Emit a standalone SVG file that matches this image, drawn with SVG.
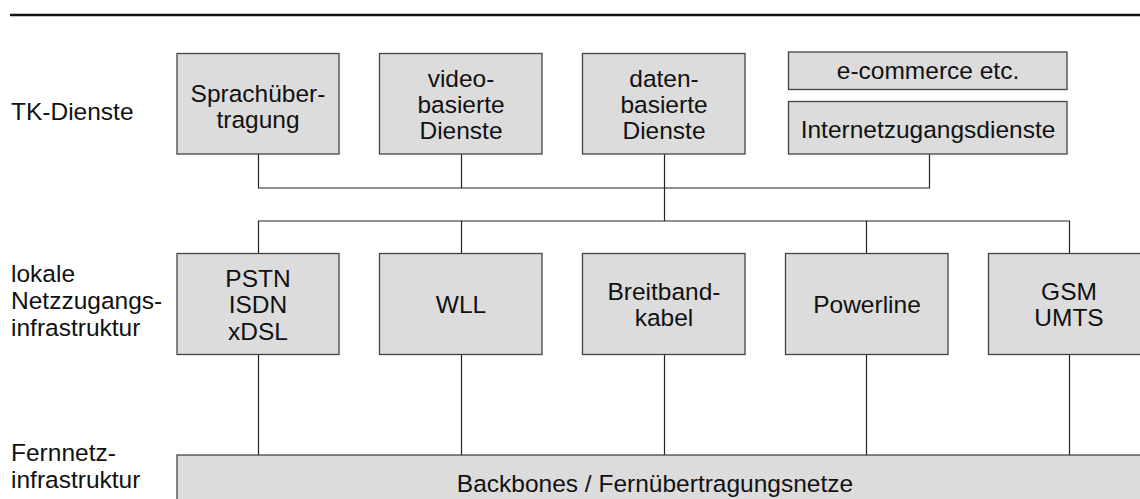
<svg xmlns="http://www.w3.org/2000/svg" width="1140" height="499" viewBox="0 0 1140 499">
  <style>
    .box { fill: #dcdcdc; stroke: #444; stroke-width: 1.3; }
    .t { font-family: "Liberation Sans", Arial, sans-serif; font-size: 24.5px; fill: #111; }
    .c { text-anchor: middle; }
    .wire { fill: none; stroke: #222; stroke-width: 1.2; }
  </style>
  <rect width="1140" height="499" fill="#fff"/>
  <!-- header rule -->
  <line x1="10" y1="15" x2="1140" y2="15" stroke="#111" stroke-width="2.5"/>

  <!-- layer labels -->
  <g id="labels">
    <text class="t" x="11" y="119.5">TK-Dienste</text>
    <text class="t" x="11" y="281.5">lokale</text>
    <text class="t" x="11" y="308.5">Netzzugangs-</text>
    <text class="t" x="11" y="335.5">infrastruktur</text>
    <text class="t" x="11" y="460.5">Fernnetz-</text>
    <text class="t" x="11" y="487.5">infrastruktur</text>
  </g>

  <!-- connectors -->
  <g id="connectors" class="wire">
    <path d="M258.5 154 V188 H929.5 V154"/>
    <path d="M461.5 154 V188"/>
    <path d="M664.5 154 V221"/>
    <path d="M258.5 253 V221 H1069.5 V253"/>
    <path d="M461.5 221 V253"/>
    <path d="M866.5 221 V253"/>
    <path d="M258.5 355 V455"/>
    <path d="M461.5 355 V455"/>
    <path d="M664.5 355 V455"/>
    <path d="M866.5 355 V455"/>
    <path d="M1069.5 355 V455"/>
  </g>

  <!-- service layer -->
  <g id="sprachuebertragung">
    <rect class="box" x="177" y="53.5" width="162" height="100.5"/>
    <text class="t c" x="258" y="102">Sprachüber-</text>
    <text class="t c" x="258" y="128">tragung</text>
  </g>
  <g id="videodienste">
    <rect class="box" x="379.5" y="53.5" width="162.5" height="100.5"/>
    <text class="t c" x="461" y="87">video-</text>
    <text class="t c" x="461" y="113">basierte</text>
    <text class="t c" x="461" y="139">Dienste</text>
  </g>
  <g id="datendienste">
    <rect class="box" x="582.5" y="53.5" width="162.5" height="100.5"/>
    <text class="t c" x="664" y="87">daten-</text>
    <text class="t c" x="664" y="113">basierte</text>
    <text class="t c" x="664" y="139">Dienste</text>
  </g>
  <g id="ecommerce">
    <rect class="box" x="788.5" y="52" width="278.5" height="37.5"/>
    <text class="t c" x="928" y="78.5">e-commerce etc.</text>
  </g>
  <g id="internetzugang">
    <rect class="box" x="788.5" y="101.5" width="278.5" height="52.5"/>
    <text class="t c" x="928" y="137.5">Internetzugangsdienste</text>
  </g>

  <!-- access layer -->
  <g id="pstn">
    <rect class="box" x="177" y="253.5" width="162" height="101"/>
    <text class="t c" x="258" y="286.5">PSTN</text>
    <text class="t c" x="258" y="313">ISDN</text>
    <text class="t c" x="258" y="340">xDSL</text>
  </g>
  <g id="wll">
    <rect class="box" x="379.5" y="253.5" width="162.5" height="101"/>
    <text class="t c" x="461" y="313">WLL</text>
  </g>
  <g id="breitbandkabel">
    <rect class="box" x="582.5" y="253.5" width="162.5" height="101"/>
    <text class="t c" x="664" y="300">Breitband-</text>
    <text class="t c" x="664" y="326">kabel</text>
  </g>
  <g id="powerline">
    <rect class="box" x="785.5" y="253.5" width="162.5" height="101"/>
    <text class="t c" x="867" y="313">Powerline</text>
  </g>
  <g id="gsm">
    <rect class="box" x="988.5" y="253.5" width="162.5" height="101"/>
    <text class="t c" x="1069" y="300">GSM</text>
    <text class="t c" x="1069" y="326">UMTS</text>
  </g>

  <!-- core layer -->
  <g id="backbones">
    <rect class="box" x="177" y="455" width="980" height="60"/>
    <text class="t c" x="655" y="491.5">Backbones / Fernübertragungsnetze</text>
  </g>
</svg>
